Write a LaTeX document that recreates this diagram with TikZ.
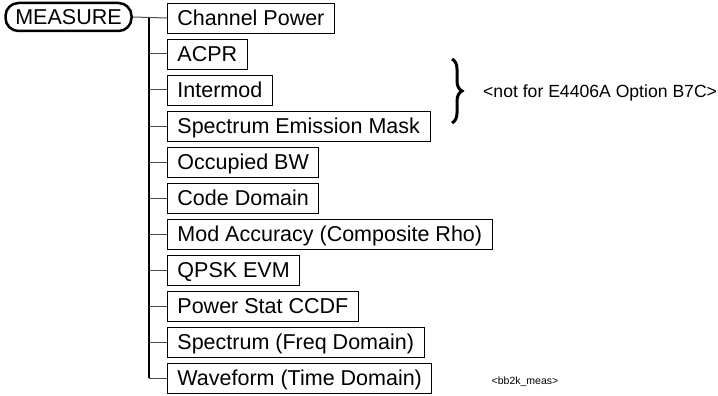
\documentclass[tikz,border=0pt]{standalone}
\usepackage{fontspec}
\setmainfont{Liberation Sans}
\usetikzlibrary{decorations.pathreplacing}
\begin{document}
\begin{tikzpicture}[x=1pt,y=-1pt,
  item/.style={draw=black,line width=0.9pt,anchor=west,minimum height=30pt,inner xsep=10pt,inner ysep=0pt,text height=15.4pt,text depth=0pt,font=\fontsize{21.5}{21.5}\selectfont},
  root/.style={draw=black,line width=2.5pt,rounded corners=13pt,minimum height=28pt,minimum width=126pt,inner xsep=6pt,inner ysep=0pt,text height=15.4pt,text depth=0pt,font=\fontsize{21.5}{21.5}\selectfont},
  branch/.style={draw=black!70,line width=1pt},
  trunk/.style={draw=black,line width=2pt},
  note/.style={anchor=west,inner sep=0pt,text height=12.6pt,text depth=0pt,font=\fontsize{17.6}{18}\selectfont},
  tag/.style={inner sep=0pt,font=\fontsize{10.5}{11}\selectfont},
  bracestyle/.style={draw=black,line width=3pt,decorate,decoration={brace,amplitude=10pt}}]
\useasboundingbox (0,0) rectangle (718,396);
\node[root] (m) at (68.5,17) {MEASURE};
\node[item] (c1) at (167,18) {Channel Power};
\node[item] (c2) at (167,54) {ACPR};
\node[item] (c3) at (167,90) {Intermod};
\node[item] (c4) at (167,126) {Spectrum Emission Mask};
\node[item] (c5) at (167,162) {Occupied BW};
\node[item] (c6) at (167,198) {Code Domain};
\node[item] (c7) at (167,234) {Mod Accuracy (Composite Rho)};
\node[item] (c8) at (167,270) {QPSK EVM};
\node[item] (c9) at (167,306) {Power Stat CCDF};
\node[item] (c10) at (167,342) {Spectrum (Freq Domain)};
\node[item] (c11) at (167,378) {Waveform (Time Domain)};
\coordinate (ttop) at (149,18);
\coordinate (tbot) at (149,378);
\draw[branch] (m.east) -- (c1.west);
\draw[trunk] (ttop) -- (tbot);
\foreach \i in {2,...,10} {\draw[branch] (c\i.west -| ttop) -- (c\i.west);}
\draw[branch] (tbot) -- (c11.west);
\coordinate (bt) at (452,59);
\coordinate (bb) at (452,123);
\draw[bracestyle] (bt) -- (bb);
\node[note] (n) at (483,91) {<not for E4406A Option B7C>};
\node[tag] (t) at (525,382) {<bb2k\_meas>};
\end{tikzpicture}
\end{document}
